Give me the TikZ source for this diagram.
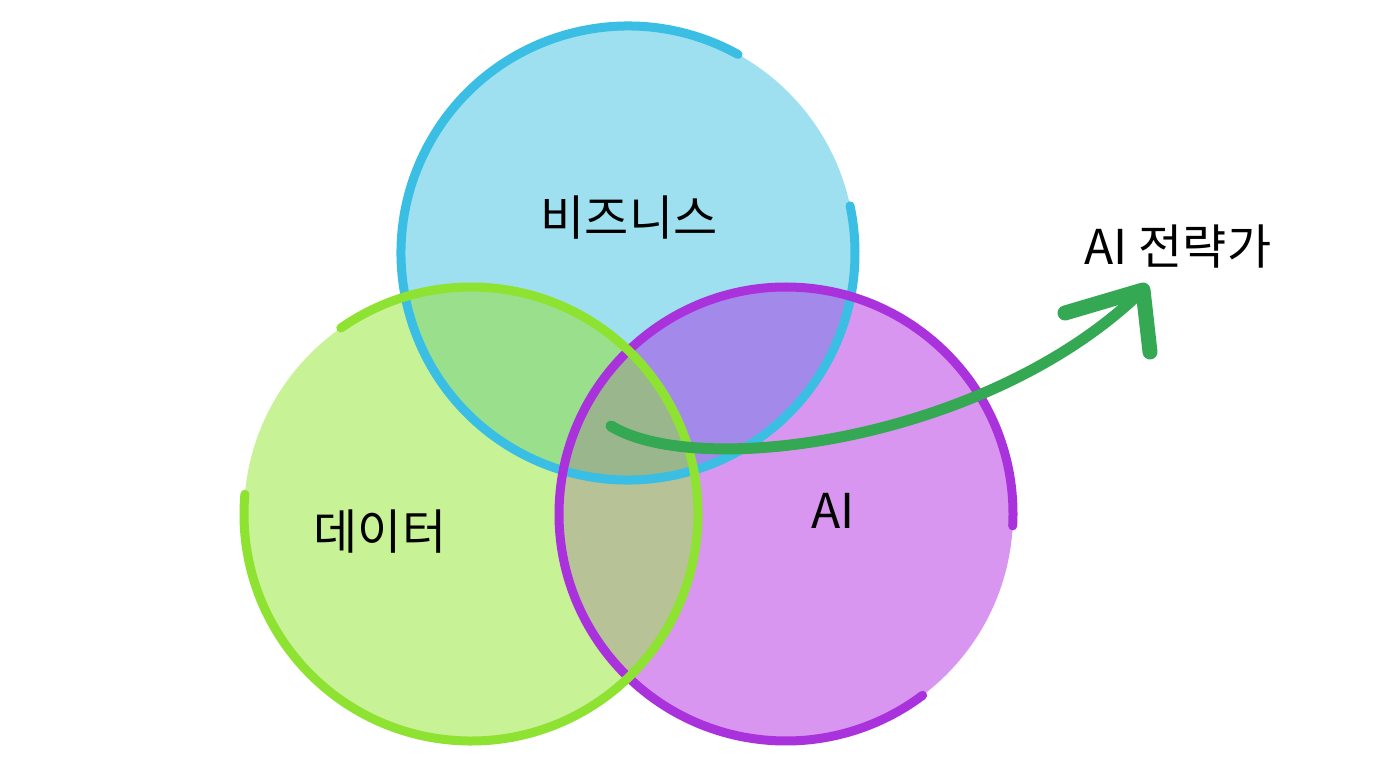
\documentclass[tikz,border=0pt]{standalone}
\usepackage{fontspec}
\setmainfont{Noto Sans CJK KR}
\usetikzlibrary{positioning}

\definecolor{bizfill}{RGB}{158,224,240}
\definecolor{bizline}{RGB}{59,190,228}
\definecolor{datafill}{RGB}{200,242,150}
\definecolor{dataline}{RGB}{142,226,50}
\definecolor{aifill}{RGB}{216,150,240}
\definecolor{ailine}{RGB}{170,50,220}
\definecolor{bizdata}{RGB}{154,224,140}
\definecolor{bizai}{RGB}{163,138,234}
\definecolor{dataai}{RGB}{183,194,150}
\definecolor{allthree}{RGB}{154,182,140}
\definecolor{arrowgreen}{RGB}{52,168,83}

\tikzset{
  set_line/.style={line width=9pt, line cap=round},
  set_label/.style={font=\fontsize{48}{58}\selectfont, text=black, inner sep=0pt},
  arrow_shaft/.style={draw=arrowgreen, line width=11pt, line cap=round},
  arrow_head/.style={draw=arrowgreen, line width=15pt, line cap=round, line join=round},
}

\begin{document}
\begin{tikzpicture}[
  x=1pt, y=-1pt,
  ]
  \useasboundingbox[fill=white] (0,0) rectangle (1376,768);

  \def\rad{227}
  \coordinate (biz) at (628,253);
  \coordinate (data) at (471,514);
  \coordinate (ai) at (786,514);

  % fills
  \fill[bizfill] (biz) circle[radius=\rad];
  \fill[datafill] (data) circle[radius=\rad];
  \fill[aifill] (ai) circle[radius=\rad];
  \begin{scope}
    \clip (data) circle[radius=\rad];
    \fill[dataai] (ai) circle[radius=\rad];
  \end{scope}
  \begin{scope}
    \clip (biz) circle[radius=\rad];
    \fill[bizdata] (data) circle[radius=\rad];
    \fill[bizai] (ai) circle[radius=\rad];
    \clip (data) circle[radius=\rad];
    \fill[allthree] (ai) circle[radius=\rad];
  \end{scope}

  % outlines, left open like a pen stroke (y runs down, so angles turn clockwise)
  \foreach \Set/\Col/\From/\To in {biz/bizline/-61/-372, ai/ailine/3/-307, data/dataline/-175/-485}{
    \draw[set_line, draw=\Col] (\Set) ++(\From:\rad)
      arc[start angle=\From, end angle=\To, radius=\rad];
  }

  \node[set_label] (bizlabel) at (629,218) {비즈니스};
  \node[set_label] (datalabel) at (380,532) {데이터};
  \node[set_label] (ailabel) at (833,511) {AI};
  \node[set_label] (strategist) at (1178,246) {AI 전략가};

  \coordinate (start) at (611,426);
  \coordinate (tip) at (1143,290);
  \coordinate (armleft) at (1065,313);
  \coordinate (armright) at (1150,352);

  \draw[arrow_shaft] (start) .. controls (700,480) and (990,440) .. (tip);
  \draw[arrow_head] (armleft) -- (tip) -- (armright);
\end{tikzpicture}
\end{document}
